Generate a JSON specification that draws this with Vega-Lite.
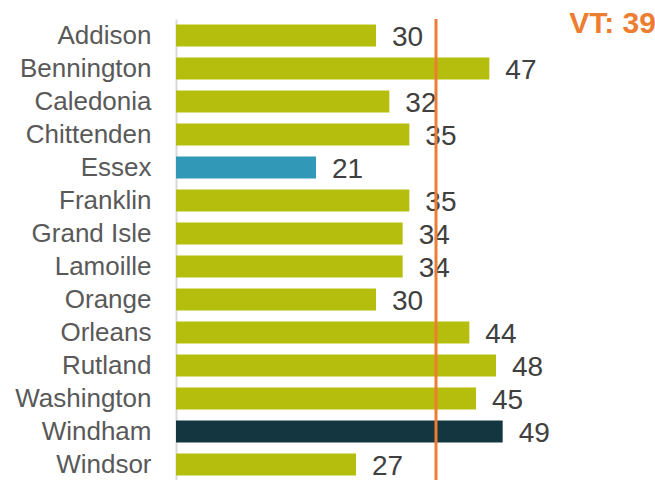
{
  "$schema": "https://vega.github.io/schema/vega-lite/v6.json",
  "autosize": "none",
  "width": 480,
  "height": 462,
  "padding": {"left": 176, "top": 19, "right": 0, "bottom": 0},
  "background": "white",
  "config": {"view": {"stroke": null}, "font": "Liberation Sans"},
  "title": {"text": "VT: 39", "anchor": "end", "color": "#ED7D31", "fontSize": 30, "fontWeight": "bold", "offset": -21, "font": "Liberation Sans"},
  "data": {"values": [
    {"county": "Addison", "value": 30, "group": "county"},
    {"county": "Bennington", "value": 47, "group": "county"},
    {"county": "Caledonia", "value": 32, "group": "county"},
    {"county": "Chittenden", "value": 35, "group": "county"},
    {"county": "Essex", "value": 21, "group": "low"},
    {"county": "Franklin", "value": 35, "group": "county"},
    {"county": "Grand Isle", "value": 34, "group": "county"},
    {"county": "Lamoille", "value": 34, "group": "county"},
    {"county": "Orange", "value": 30, "group": "county"},
    {"county": "Orleans", "value": 44, "group": "county"},
    {"county": "Rutland", "value": 48, "group": "county"},
    {"county": "Washington", "value": 45, "group": "county"},
    {"county": "Windham", "value": 49, "group": "high"},
    {"county": "Windsor", "value": 27, "group": "county"}
  ]},
  "encoding": {
    "y": {"field": "county", "type": "nominal", "sort": null,
      "scale": {"paddingInner": 0.33, "paddingOuter": 0.165},
      "axis": {"title": null, "ticks": false, "labelFontSize": 26, "labelColor": "#595959", "labelPadding": 25, "domainColor": "#D9D9D9", "domainWidth": 2, "labelFont": "Liberation Sans"}},
    "x": {"field": "value", "type": "quantitative", "scale": {"domain": [0, 72], "nice": false}, "axis": null}
  },
  "layer": [
    {"mark": {"type": "bar"},
     "encoding": {"color": {"field": "group", "type": "nominal", "scale": {"domain": ["county", "low", "high"], "range": ["#B5BE0D", "#3198B8", "#143640"]}, "legend": null}}},
    {"mark": {"type": "text", "align": "left", "dx": 16, "fontSize": 28, "color": "#404040", "baseline": "middle", "dy": 2},
     "encoding": {"text": {"field": "value", "type": "quantitative"}}},
    {"data": {"values": [{"vt": 39}]},
     "mark": {"type": "rule", "color": "#ED7D31", "strokeWidth": 3},
     "encoding": {"x": {"field": "vt", "type": "quantitative"}, "y": null}}
  ]
}
